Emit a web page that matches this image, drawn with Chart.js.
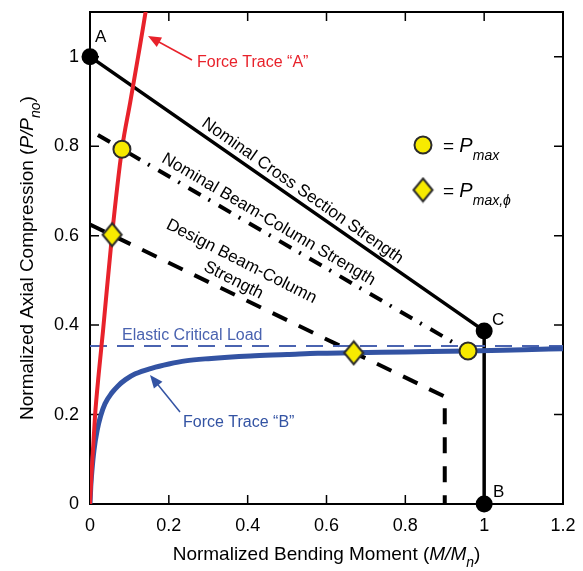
<!DOCTYPE html>
<html>
<head>
<meta charset="utf-8">
<script src="https://cdn.jsdelivr.net/npm/chart.js@4.4.1/dist/chart.umd.min.js"></script>
<style>
html, body { margin: 0; padding: 0; background: #fff; }
canvas { display: block; }
</style>
</head>
<body>
<canvas id="chart" width="583" height="571"></canvas>
<script>
// axis ticks
const xTicks = [0, 0.2, 0.4, 0.6, 0.8, 1, 1.2];
const xTickLabels = ["0", "0.2", "0.4", "0.6", "0.8", "1", "1.2"];
const yTicks = [0, 0.2, 0.4, 0.6, 0.8, 1];
const yTickLabels = ["0", "0.2", "0.4", "0.6", "0.8", "1"];

// nominal cross section strength: A -> C -> B
const crossX = [0, 1, 1];
const crossY = [1, 0.387, 0];

// nominal beam-column strength (dash-dot)
const nominalBcX = [0.02, 0.959];
const nominalBcY = [0.825, 0.342];

// design beam-column strength (dashed)
const designBcX = [0, 0.9, 0.9];
const designBcY = [0.625, 0.24, 0];

// elastic critical load
const elasticX = [0, 1.2];
const elasticY = [0.353, 0.353];

// force trace "A" (red)
const traceAX = [0, 0.004, 0.013, 0.022, 0.033, 0.056, 0.081, 0.102, 0.122, 0.141, 0.146];
const traceAY = [0, 0.07, 0.2, 0.29, 0.387, 0.602, 0.793, 0.898, 1.0, 1.1, 1.13];

// force trace "B" (blue)
const traceBX = [0, 0.002, 0.005, 0.01, 0.018, 0.027, 0.038, 0.055, 0.071, 0.09, 0.115, 0.158, 0.2, 0.242, 0.3, 0.407, 0.5, 0.578, 0.669, 0.8, 0.959, 1.1, 1.2];
const traceBY = [0, 0.04, 0.076, 0.12, 0.164, 0.197, 0.224, 0.248, 0.264, 0.278, 0.291, 0.304, 0.313, 0.32, 0.325, 0.331, 0.334, 0.337, 0.338, 0.34, 0.342, 0.345, 0.347];

// markers
const pmaxX = [0.081, 0.959];
const pmaxY = [0.793, 0.342];
const pmaxPhiX = [0.056, 0.669];
const pmaxPhiY = [0.602, 0.338];
const endX = [0, 1, 1];
const endY = [1, 0.387, 0];

const pts = (xs, ys) => xs.map((v, i) => ({ x: v, y: ys[i] }));

const FONT = '"Liberation Sans", Arial, Helvetica, sans-serif';
const YELLOW = '#f7ea00';
const EDGE = '#2b2b2b';
const RED = '#e8222b';
const BLUE = '#3353a3';

// diamond marker image
function makeDiamond(w, h) {
    const c = document.createElement('canvas');
    c.width = w + 4; c.height = h + 4;
    const g = c.getContext('2d');
    g.beginPath();
    g.moveTo(c.width / 2, 2);
    g.lineTo(c.width - 2, c.height / 2);
    g.lineTo(c.width / 2, c.height - 2);
    g.lineTo(2, c.height / 2);
    g.closePath();
    g.fillStyle = YELLOW; g.fill();
    g.lineWidth = 2; g.strokeStyle = EDGE; g.stroke();
    return c;
}
const diamondImg = makeDiamond(19, 23);

function richText(ctx, parts, x, y, align) {
    let total = 0;
    parts.forEach(p => {
        ctx.font = (p.italic ? 'italic ' : '') + p.size + 'px ' + FONT;
        p.w = ctx.measureText(p.t).width;
        total += p.w;
    });
    let cx = align === 'center' ? x - total / 2 : x;
    parts.forEach(p => {
        ctx.font = (p.italic ? 'italic ' : '') + p.size + 'px ' + FONT;
        ctx.fillText(p.t, cx, y + (p.dy || 0));
        cx += p.w;
    });
}

function arrow(ctx, x0, y0, x1, y1, color) {
    const ang = Math.atan2(y1 - y0, x1 - x0);
    const len = 13, half = 5.5;
    ctx.strokeStyle = color; ctx.fillStyle = color; ctx.lineWidth = 1.5;
    ctx.beginPath();
    ctx.moveTo(x0, y0);
    ctx.lineTo(x1 - Math.cos(ang) * len * 0.8, y1 - Math.sin(ang) * len * 0.8);
    ctx.stroke();
    ctx.beginPath();
    ctx.moveTo(x1, y1);
    ctx.lineTo(x1 - Math.cos(ang) * len - Math.sin(ang) * half, y1 - Math.sin(ang) * len + Math.cos(ang) * half);
    ctx.lineTo(x1 - Math.cos(ang) * len + Math.sin(ang) * half, y1 - Math.sin(ang) * len - Math.cos(ang) * half);
    ctx.closePath();
    ctx.fill();
}

function rotLabel(ctx, text, px, py, deg, size) {
    ctx.save();
    ctx.translate(px, py);
    ctx.rotate(deg * Math.PI / 180);
    ctx.font = size + 'px ' + FONT;
    ctx.textAlign = 'center';
    ctx.textBaseline = 'middle';
    ctx.fillText(text, 0, 0);
    ctx.restore();
}

const decor = {
    id: 'decor',
    beforeDatasetsDraw(chart) {
        const { ctx, chartArea: a, scales: { x, y } } = chart;
        ctx.save();
        ctx.strokeStyle = '#000';
        ctx.lineWidth = 2;
        ctx.strokeRect(a.left, a.top, a.right - a.left, a.bottom - a.top);
        ctx.lineWidth = 1.5;
        ctx.beginPath();
        xTicks.forEach(v => {
            const px = x.getPixelForValue(v);
            ctx.moveTo(px, a.bottom); ctx.lineTo(px, a.bottom - 9);
            ctx.moveTo(px, a.top); ctx.lineTo(px, a.top + 9);
        });
        yTicks.forEach(v => {
            const py = y.getPixelForValue(v);
            ctx.moveTo(a.left, py); ctx.lineTo(a.left + 9, py);
            ctx.moveTo(a.right, py); ctx.lineTo(a.right - 9, py);
        });
        ctx.stroke();
        ctx.restore();
    },
    afterDraw(chart) {
        const { ctx, chartArea: a, scales: { x, y } } = chart;
        ctx.save();
        ctx.fillStyle = '#000';
        ctx.textBaseline = 'alphabetic';
        ctx.textAlign = 'left';

        // axis titles
        richText(ctx, [
            { t: 'Normalized Bending Moment (', size: 19 },
            { t: 'M/M', size: 19, italic: true },
            { t: 'n', size: 14, italic: true, dy: 7 },
            { t: ')', size: 19 }
        ], (a.left + a.right) / 2, 560, 'center');

        ctx.save();
        ctx.translate(33, (a.top + a.bottom) / 2);
        ctx.rotate(-Math.PI / 2);
        richText(ctx, [
            { t: 'Normalized Axial Compression (', size: 19 },
            { t: 'P/P', size: 19, italic: true },
            { t: 'no', size: 14, italic: true, dy: 7 },
            { t: ')', size: 19 }
        ], 0, 0, 'center');
        ctx.restore();

        // point labels
        ctx.font = '17px ' + FONT;
        ctx.fillText('A', 95, 42);
        ctx.fillText('C', 492, 325);
        ctx.fillText('B', 493, 497);

        // curve labels
        rotLabel(ctx, 'Nominal Cross Section Strength', x.getPixelForValue(0.539), y.getPixelForValue(0.70), 35, 17);
        rotLabel(ctx, 'Nominal Beam-Column Strength', x.getPixelForValue(0.453), y.getPixelForValue(0.636), 30.5, 17);
        rotLabel(ctx, 'Design Beam-Column', x.getPixelForValue(0.384), y.getPixelForValue(0.542), 27, 17);
        rotLabel(ctx, 'Strength', x.getPixelForValue(0.364), y.getPixelForValue(0.5), 27, 17);

        // force traces
        ctx.font = '16px ' + FONT;
        ctx.textAlign = 'left';
        ctx.textBaseline = 'alphabetic';
        ctx.fillStyle = RED;
        ctx.fillText('Force Trace \u201CA\u201D', 197, 67);
        arrow(ctx, 192, 60, 148, 36, RED);
        ctx.fillStyle = BLUE;
        ctx.fillText('Force Trace \u201CB\u201D', 183, 427);
        arrow(ctx, 180, 412, 150, 375, BLUE);
        ctx.fillStyle = '#4a63b0';
        ctx.fillText('Elastic Critical Load', 122, 340);

        // legend
        ctx.beginPath();
        ctx.arc(423, 145, 8.5, 0, Math.PI * 2);
        ctx.fillStyle = YELLOW; ctx.fill();
        ctx.lineWidth = 2; ctx.strokeStyle = EDGE; ctx.stroke();
        ctx.drawImage(diamondImg, 423 - diamondImg.width / 2, 190 - diamondImg.height / 2);
        ctx.fillStyle = '#000';
        richText(ctx, [
            { t: '= ', size: 19 },
            { t: 'P', size: 20, italic: true },
            { t: 'max', size: 14, italic: true, dy: 8 }
        ], 443, 152, 'left');
        richText(ctx, [
            { t: '= ', size: 19 },
            { t: 'P', size: 20, italic: true },
            { t: 'max,\u03D5', size: 14, italic: true, dy: 8 }
        ], 443, 197, 'left');
        ctx.restore();
    }
};

new Chart(document.getElementById('chart'), {
    type: 'line',
    data: {
        datasets: [
            { label: 'Pmax', data: pts(pmaxX, pmaxY), showLine: false, pointRadius: 8.5, pointBackgroundColor: YELLOW, pointBorderColor: EDGE, pointBorderWidth: 2, clip: false, order: 1 },
            { label: 'Pmax,phi', data: pts(pmaxPhiX, pmaxPhiY), showLine: false, pointStyle: diamondImg, pointRadius: 11, clip: false, order: 2 },
            { label: 'Ends', data: pts(endX, endY), showLine: false, pointRadius: 8.5, pointBackgroundColor: '#000', pointBorderColor: '#000', pointBorderWidth: 0, clip: false, order: 3 },
            { label: 'Force Trace A', data: pts(traceAX, traceAY), borderColor: RED, borderWidth: 4, pointRadius: 0, cubicInterpolationMode: 'monotone', order: 4 },
            { label: 'Force Trace B', data: pts(traceBX, traceBY), borderColor: BLUE, borderWidth: 5, pointRadius: 0, cubicInterpolationMode: 'monotone', order: 5 },
            { label: 'Elastic Critical Load', data: pts(elasticX, elasticY), borderColor: '#4a63b0', borderWidth: 2, borderDash: [17, 10], pointRadius: 0, order: 6 },
            { label: 'Cross Section', data: pts(crossX, crossY), borderColor: '#000', borderWidth: 3.5, pointRadius: 0, order: 7 },
            { label: 'Nominal Beam-Column', data: pts(nominalBcX, nominalBcY), borderColor: '#000', borderWidth: 4, borderDash: [14, 9, 2, 10], pointRadius: 0, order: 8 },
            { label: 'Design Beam-Column', data: pts(designBcX, designBcY), borderColor: '#000', borderWidth: 4, borderDash: [16, 13], pointRadius: 0, order: 9 }
        ]
    },
    options: {
        responsive: false,
        animation: false,
        layout: { padding: { top: 7, right: 20, left: 0, bottom: 0 } },
        plugins: { legend: { display: false }, tooltip: { enabled: false } },
        scales: {
            x: {
                type: 'linear', min: 0, max: 1.2,
                afterBuildTicks: s => { s.ticks = xTicks.map(v => ({ value: v })); },
                afterFit: s => { s.height = 67; s.paddingLeft = 0; s.paddingRight = 0; },
                ticks: { callback: (v, i) => xTickLabels[i], font: { size: 18, family: FONT }, color: '#000', padding: 11, maxRotation: 0 },
                grid: { display: false, drawTicks: false },
                border: { display: false }
            },
            y: {
                type: 'linear', min: 0, max: 1.1,
                afterBuildTicks: s => { s.ticks = yTicks.map(v => ({ value: v })); },
                afterFit: s => { s.width = 90; s.paddingTop = 0; s.paddingBottom = 0; },
                ticks: { callback: (v, i) => yTickLabels[i], font: { size: 18, family: FONT }, color: '#000', padding: 11 },
                grid: { display: false, drawTicks: false },
                border: { display: false }
            }
        }
    },
    plugins: [decor]
});
</script>
</body>
</html>
